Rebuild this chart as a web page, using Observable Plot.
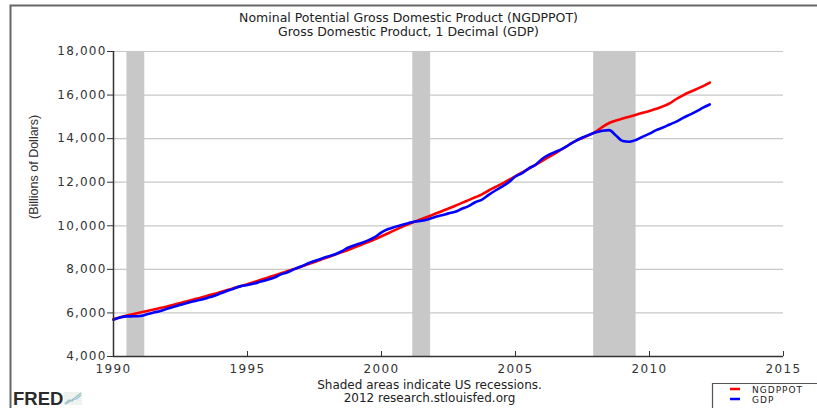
<!DOCTYPE html>
<html><head><meta charset="utf-8">
<script src="https://cdn.jsdelivr.net/npm/d3@7"></script>
<script src="https://cdn.jsdelivr.net/npm/@observablehq/plot@0.6"></script>
<style>
body{margin:0;background:#fff;}
#chart{position:relative;width:817px;height:408px;overflow:hidden}
#chart svg{font-family:"DejaVu Sans",Verdana,sans-serif;overflow:visible}
g[aria-label="y-axis tick label"] text{letter-spacing:1.2px}
g[aria-label="x-axis tick label"] text{letter-spacing:1.4px}
</style></head><body><div id="chart"></div>
<script>
// ---- data (quarterly, billions of dollars, first value = 1990 Q1) ----
const startYear = 1990;
const seriesNames = ["NGDPPOT", "GDP"];
const seriesColors = ["#ff0000", "#0000ff"];
const ngdppotValues = [
  5720, 5800, 5880, 5950,   // 1990
  6020, 6090, 6160, 6230,   // 1991
  6300, 6380, 6460, 6540,   // 1992
  6620, 6700, 6790, 6870,   // 1993
  6960, 7050, 7140, 7230,   // 1994
  7320, 7420, 7520, 7620,   // 1995
  7720, 7820, 7920, 8020,   // 1996
  8120, 8230, 8340, 8450,   // 1997
  8560, 8670, 8780, 8890,   // 1998
  9010, 9130, 9250, 9380,   // 1999
  9520, 9660, 9800, 9940,   // 2000
  10070, 10190, 10310, 10430, // 2001
  10550, 10670, 10790, 10920, // 2002
  11050, 11180, 11310, 11440, // 2003
  11620, 11780, 11940, 12110, // 2004
  12280, 12450, 12620, 12800, // 2005
  12980, 13160, 13340, 13530, // 2006
  13720, 13900, 14030, 14160, // 2007
  14320, 14540, 14720, 14830, // 2008
  14920, 15010, 15100, 15190, // 2009
  15270, 15370, 15480, 15620, // 2010
  15820, 15990, 16140, 16270, // 2011
  16410, 16570                // 2012
];
const gdpValues = [
  5690, 5790, 5840, 5845,   // 1990
  5860, 5940, 6020, 6090,   // 1991
  6190, 6280, 6370, 6460,   // 1992
  6540, 6610, 6690, 6780,   // 1993
  6900, 7020, 7120, 7230,   // 1994
  7280, 7350, 7440, 7520,   // 1995
  7620, 7770, 7870, 8010,   // 1996
  8130, 8270, 8380, 8490,   // 1997
  8590, 8680, 8820, 8990,   // 1998
  9110, 9210, 9330, 9480,   // 1999
  9700, 9850, 9950, 10040,  // 2000
  10120, 10200, 10230, 10300, // 2001
  10400, 10480, 10570, 10640, // 2002
  10780, 10900, 11080, 11200, // 2003
  11420, 11620, 11800, 12000, // 2004
  12260, 12420, 12640, 12800, // 2005
  13080, 13260, 13400, 13530, // 2006
  13720, 13900, 14050, 14180, // 2007
  14290, 14360, 14390, 14140, // 2008
  13890, 13860, 13940, 14090, // 2009
  14230, 14390, 14510, 14650, // 2010
  14780, 14950, 15100, 15250, // 2011
  15420, 15570                // 2012
];
const recessionStarts = [1990.5, 2001.167, 2007.917];
const recessionEnds   = [1991.167, 2001.833, 2009.5];
const xTicks = [1990, 1995, 2000, 2005, 2010, 2015];
const yTicks = [4000, 6000, 8000, 10000, 12000, 14000, 16000, 18000];
const titleLines = ["Nominal Potential Gross Domestic Product (NGDPPOT)", "Gross Domestic Product, 1 Decimal (GDP)"];
const yLabel = "(Billions of Dollars)";
const footerLines = ["Shaded areas indicate US recessions.", "2012 research.stlouisfed.org"];

// ---- build tables ----
const toRows = (vals, name) => vals.map((v, i) => ({date: startYear + i / 4, value: v, series: name}));
const potRows = toRows(ngdppotValues, seriesNames[0]);
const gdpRows = toRows(gdpValues, seriesNames[1]);
const recessions = recessionStarts.map((s, i) => ({start: s, end: recessionEnds[i]}));

const chart = Plot.plot({
  width: 817, height: 408,
  marginLeft: 113, marginRight: 34, marginTop: 51, marginBottom: 52,
  x: {domain: [1990, 2015]},
  y: {domain: [4000, 18000]},
  marks: [
    Plot.rect(recessions, {x1: "start", x2: "end", fill: "#c8c8c8"}),
    Plot.gridY(yTicks.filter(d => d > 4000), {stroke: "#c8c8c8", strokeOpacity: 1, strokeWidth: 1.2}),
    Plot.line(potRows, {x: "date", y: "value", stroke: seriesColors[0], strokeWidth: 2.6, curve: "monotone-x"}),
    Plot.line(gdpRows, {x: "date", y: "value", stroke: seriesColors[1], strokeWidth: 2.6, curve: "monotone-x"}),
    Plot.ruleX([1990], {stroke: "#333", strokeWidth: 1.5}),
    Plot.ruleY([4000], {stroke: "#333", strokeWidth: 1.5}),
    Plot.axisY({ticks: yTicks, tickSize: 6, tickPadding: 1, tickFormat: d3.format(","), fontSize: 12, color: "#333", label: null}),
    Plot.axisX({ticks: xTicks, tickSize: 5, dy: -5, tickPadding: 8, tickFormat: d => String(d), fontSize: 12, color: "#333", label: null}),
    Plot.text([titleLines[0]], {frameAnchor: "top", dx: -40, dy: -38, fontSize: 12.5, fill: "#222"}),
    Plot.text([titleLines[1]], {frameAnchor: "top", dx: -40, dy: -24, fontSize: 12.5, fill: "#222"}),
    Plot.text([yLabel], {frameAnchor: "left", dx: -80, dy: 15, rotate: -90, fontSize: 12.5, fontFamily: "Liberation Sans Narrow, Liberation Sans, sans-serif", fill: "#333"}),
    Plot.text([footerLines[0]], {frameAnchor: "bottom", dx: -19, dy: 32.5, fontSize: 12, fill: "#222"}),
    Plot.text([footerLines[1]], {frameAnchor: "bottom", dx: -19, dy: 45.5, fontSize: 12, fill: "#222"})
  ]
});
document.getElementById("chart").appendChild(chart);

// ---- frame, FRED logo, legend (decoration) ----
const svg = d3.select(chart);
svg.append("path").attr("d", "M10.5,408V5.5H817").attr("fill", "none").attr("stroke", "#666").attr("stroke-width", 2);
svg.append("text").attr("x", 13).attr("y", 405).attr("text-anchor", "start").attr("font-family", "Liberation Sans, Arial, sans-serif")
  .attr("font-weight", "bold").attr("font-size", 18.5).attr("fill", "#2a2a2a").text("FRED");
const icon = svg.append("g").attr("transform", "translate(64,392)");
icon.append("rect").attr("width", 18).attr("height", 13).attr("fill", "#eef3f0");
icon.append("polyline").attr("points", "1,12 5,8 8,9 12,5 17,1").attr("fill", "none").attr("stroke", "#8fc8a8").attr("stroke-width", 1.3);
icon.append("polyline").attr("points", "1,12 5,10 9,7 13,7 17,3").attr("fill", "none").attr("stroke", "#9fb8e0").attr("stroke-width", 1.1);
const lg = svg.append("g");
lg.append("path").attr("d", "M712.5,408V383.5H817").attr("fill", "none").attr("stroke", "#555").attr("stroke-width", 1.2);
seriesNames.forEach((name, i) => {
  const y = 389 + i * 10;
  lg.append("line").attr("x1", 730).attr("x2", 740).attr("y1", y).attr("y2", y).attr("stroke", seriesColors[i]).attr("stroke-width", 2.5);
  lg.append("text").attr("x", 752).attr("y", y + 3.5).attr("text-anchor", "start").attr("font-size", 9).attr("letter-spacing", "1px")
    .attr("font-family", "DejaVu Sans, sans-serif").attr("fill", "#222").text(name);
});
</script>
</body></html>
